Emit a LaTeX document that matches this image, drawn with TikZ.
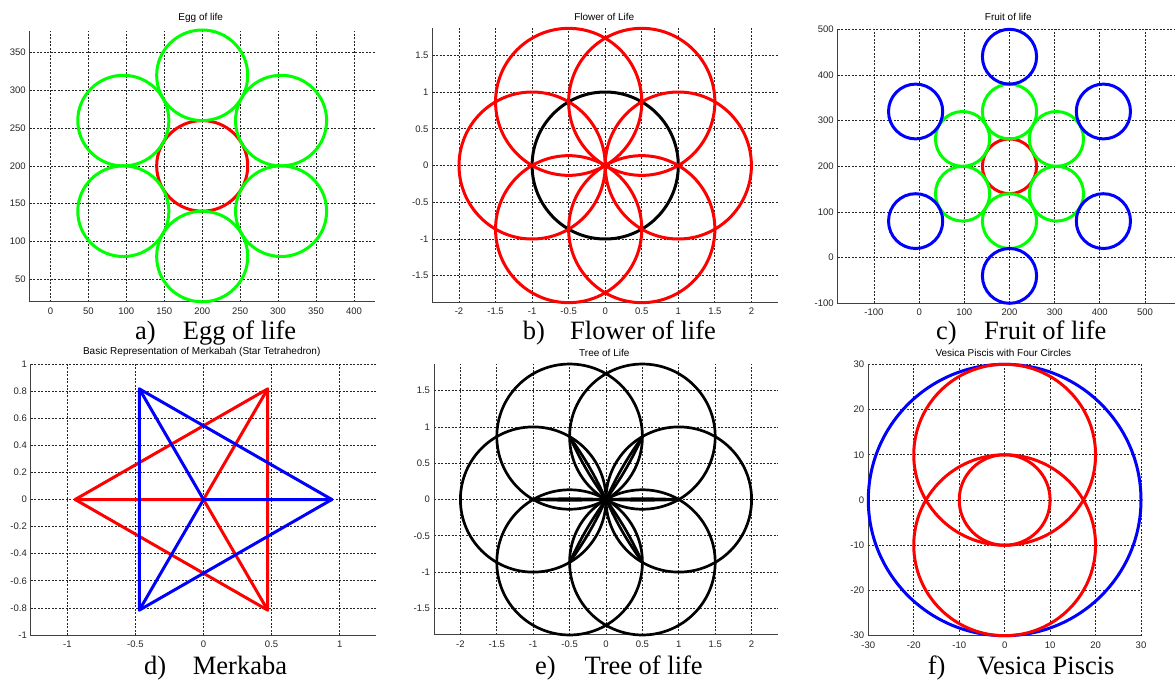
\documentclass[tikz,border=0pt]{standalone}
\usepackage{fontspec}
\setmainfont{Liberation Serif}
\newfontfamily\arialf{Liberation Sans}
\tikzset{
  gridline/.style={black!85, line width=0.75pt, dash pattern=on 2pt off 1.5pt},
  axisline/.style={black!75, line width=1pt},
  xticklab/.style={anchor=north, inner sep=0pt, yshift=-5.5pt, font=\fontsize{9.5}{10}\arialf, text=black!85},
  yticklab/.style={anchor=east, inner sep=0pt, xshift=-4pt, font=\fontsize{9.5}{10}\arialf, text=black!85},
  plottitle/.style={inner sep=0pt, font=\fontsize{10}{11}\arialf},
  caplabel/.style={anchor=base west, inner sep=0pt, font=\fontsize{26.5}{28}\selectfont},
  curve/.style={line width=3pt},
  treeline/.style={line width=2.7pt, black},
  starline/.style={line width=3pt, line join=round, line cap=round},
}
\newcommand{\mlaxes}[7]{%
  \foreach \t in {#6} {\draw[gridline] (\t,#4) -- (\t,#5);}
  \foreach \t in {#7} {\draw[gridline] (#2,\t) -- (#3,\t);}
  \draw[axisline] (#2,#5) -- (#2,#4) -- (#3,#4);
  \foreach \t [count=\i] in {#6} {\node[xticklab] (#1x\i) at (\t,#4) {\t};}
  \foreach \t [count=\i] in {#7} {\node[yticklab] (#1y\i) at (#2,\t) {\t};}
}
\begin{document}
\begin{tikzpicture}[x=1pt,y=-1pt]
\fill[white] (0,0) rectangle (1175,680);
\path[use as bounding box] (0,0) rectangle (1175,680);

% ---------------- a) Egg of life
\begin{scope}[shift={(202.2,165.9)}, x=0.759pt, y=0.755pt, shift={(-200,-200)}]
  \mlaxes{a}{-27}{428}{20}{379}{0,50,...,400}{50,100,...,350}
  \draw[curve, red] (200,200) circle[radius=60];
  \foreach \a in {30,90,...,330} {\draw[curve, green] (200,200) ++(\a:120) circle[radius=60];}
\end{scope}
\node[plottitle] (ta) at (200.7,18.3) {Egg of life};
\node[caplabel] (la) at (135,339.5) {a)};
\node[caplabel] (ca) at (182.7,339.5) {Egg of life};

% ---------------- b) Flower of life
\begin{scope}[shift={(605.2,165.5)}, x=73.1pt, y=73.5pt]
  \mlaxes{b}{-2.36}{2.36}{-1.866}{1.866}{-2,-1.5,-1,-0.5,0,0.5,1,1.5,2}{-1.5,-1,-0.5,0,0.5,1,1.5}
  \draw[curve, black] (0,0) circle[radius=1];
  \foreach \a in {0,60,...,300} {\draw[curve, red] (0,0) ++(\a:1) circle[radius=1];}
\end{scope}
\node[plottitle] (tb) at (604.3,16.7) {Flower of Life};
\node[caplabel] (lb) at (522.7,339.5) {b)};
\node[caplabel] (cb) at (570,339.5) {Flower of life};

% ---------------- c) Fruit of life
\begin{scope}[shift={(1009.5,166.3)}, x=0.4517pt, y=0.4567pt, shift={(-200,-200)}]
  \mlaxes{c}{-180}{580}{-100}{500}{-100,0,...,500}{-100,0,...,500}
  \draw[curve, red] (200,200) circle[radius=60];
  \foreach \a in {30,90,...,330} {\draw[curve, green] (200,200) ++(\a:120) circle[radius=60];}
  \foreach \a in {30,90,...,330} {\draw[curve, blue] (200,200) ++(\a:240) circle[radius=60];}
\end{scope}
\node[plottitle] (tc) at (1008.3,16.7) {Fruit of life};
\node[caplabel] (lc) at (936,339.5) {c)};
\node[caplabel] (cc) at (984,339.5) {Fruit of life};

% ---------------- d) Merkaba
\begin{scope}[shift={(203.5,499.5)}, x=136.15pt, y=135.5pt]
  \mlaxes{d}{-1.267}{1.267}{-1}{1}{-1,-0.5,0,0.5,1}{-1,-0.8,-0.6,-0.4,-0.2,0,0.2,0.4,0.6,0.8,1}
  \coordinate (R1) at (-0.9428,0);
  \coordinate (R2) at (0.4714,0.8165);
  \coordinate (R3) at (0.4714,-0.8165);
  \coordinate (B1) at (0.9428,0);
  \coordinate (B2) at (-0.4714,0.8165);
  \coordinate (B3) at (-0.4714,-0.8165);
  \coordinate (O) at (0,0);
  \draw[starline, red] (R1) -- (R2) -- (R3) -- cycle;
  \draw[starline, red] (R1) -- (O) (R2) -- (O) (R3) -- (O);
  \draw[starline, blue] (B1) -- (B2) -- (B3) -- cycle;
  \draw[starline, blue] (B1) -- (O) (B2) -- (O) (B3) -- (O);
\end{scope}
\node[plottitle] (td) at (201.7,352.3) {Basic Representation of Merkabah (Star Tetrahedron)};
\node[caplabel] (ld) at (144,674) {d)};
\node[caplabel] (cd) at (192.7,674) {Merkaba};

% ---------------- e) Tree of life
\begin{scope}[shift={(606,499.5)}, x=72.8pt, y=72.6pt]
  \mlaxes{e}{-2.36}{2.36}{-1.866}{1.866}{-2,-1.5,-1,-0.5,0,0.5,1,1.5,2}{-1.5,-1,-0.5,0,0.5,1,1.5}
  \foreach \a in {0,60,...,300} {\draw[treeline] (0,0) ++(\a:1) circle[radius=1];}
  \coordinate (C) at (0,0);
  \foreach \a/\b in {0/2,60/5,120/5,180/2,240/5,300/5} {
    \draw[treeline] (C) to[bend left=\b] (\a:1);
    \draw[treeline] (C) to[bend right=\b] (\a:1);
  }
\end{scope}
\node[plottitle] (te) at (604.3,353.3) {Tree of Life};
\node[caplabel] (le) at (535,674) {e)};
\node[caplabel] (ce) at (584.3,674) {Tree of life};

% ---------------- f) Vesica Piscis
\begin{scope}[shift={(1004.65,500)}, x=4.545pt, y=4.523pt]
  \mlaxes{f}{-30}{30}{-30}{30}{-30,-20,...,30}{-30,-20,...,30}
  \draw[curve, blue] (0,0) circle[radius=30];
  \draw[curve, red] (0,10) circle[radius=20];
  \draw[curve, red] (0,-10) circle[radius=20];
  \draw[curve, red] (0,0) circle[radius=10];
\end{scope}
\node[plottitle] (tf) at (1003.3,352.7) {Vesica Piscis with Four Circles};
\node[caplabel] (lf) at (927.7,674) {f)};
\node[caplabel] (cf) at (976.7,674) {Vesica Piscis};
\end{tikzpicture}
\end{document}
